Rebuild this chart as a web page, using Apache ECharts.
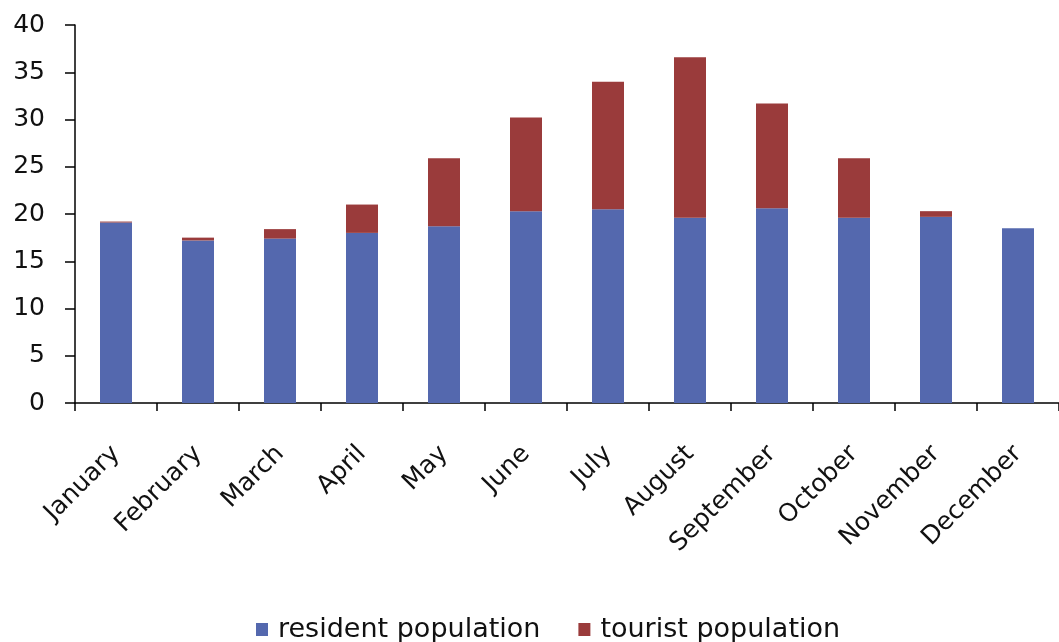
<!DOCTYPE html>
<html>
<head>
<meta charset="utf-8">
<script src="https://cdn.jsdelivr.net/npm/echarts@6/dist/echarts.min.js"></script>
<style>
  html, body { margin: 0; padding: 0; background: #fff; }
  #chart { width: 1059px; height: 642px; }
</style>
</head>
<body>
<div id="chart"></div>
<script>
var months = ['January', 'February', 'March', 'April', 'May', 'June',
  'July', 'August', 'September', 'October', 'November', 'December'];
var resident = [19.1, 17.2, 17.4, 18.0, 18.7, 20.3, 20.5, 19.6, 20.6, 19.6, 19.7, 18.5];
var tourist = [0.1, 0.3, 1.0, 3.0, 7.2, 9.9, 13.5, 17.0, 11.1, 6.3, 0.6, 0];
var yTicks = [0, 5, 10, 15, 20, 25, 30, 35, 40];

var myChart = echarts.init(document.getElementById('chart'));
var option = {
  animation: false,
  textStyle: { fontFamily: 'DejaVu Sans, sans-serif' },
  grid: {
    left: 75,
    top: 25,
    width: 993,
    height: 378
  },
  legend: {
    top: 611,
    left: 251,
    itemWidth: 12,
    itemHeight: 13,
    itemGap: 38,
    icon: 'rect',
    textStyle: { fontSize: 27, color: '#111', padding: [0, 0, 0, 5] },
    data: ['resident population', 'tourist population']
  },
  xAxis: {
    type: 'category',
    data: months,
    axisLine: { lineStyle: { color: '#000', width: 1.5 } },
    axisTick: { show: true, length: 8, lineStyle: { color: '#000', width: 1.5 } },
    axisLabel: {
      rotate: 45,
      fontSize: 25,
      color: '#111',
      margin: 47,
      interval: 0
    }
  },
  yAxis: {
    type: 'value',
    min: yTicks[0],
    max: yTicks[yTicks.length - 1],
    interval: 5,
    splitLine: { show: false },
    axisLine: { show: true, lineStyle: { color: '#000', width: 1.5 } },
    axisTick: { show: true, length: 10, lineStyle: { color: '#000', width: 1.5 } },
    axisLabel: { fontSize: 25, color: '#111', margin: 30 }
  },
  series: [
    {
      name: 'resident population',
      type: 'bar',
      stack: 'pop',
      data: resident,
      barWidth: 32,
      itemStyle: { color: '#5468ae' }
    },
    {
      name: 'tourist population',
      type: 'bar',
      stack: 'pop',
      data: tourist,
      barWidth: 32,
      itemStyle: { color: '#9a3b3b' }
    }
  ]
};
myChart.setOption(option);
</script>
</body>
</html>
